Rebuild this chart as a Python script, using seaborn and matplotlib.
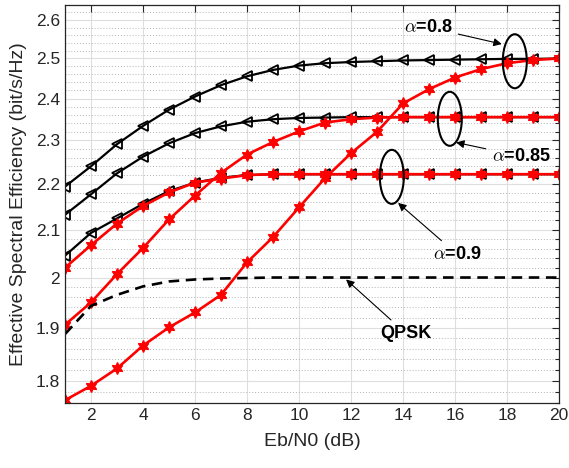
import numpy as np
import pandas as pd
import matplotlib
matplotlib.use("Agg")
import matplotlib.pyplot as plt
import seaborn as sns
from matplotlib.patches import Ellipse
from matplotlib.ticker import FixedLocator, NullFormatter

# ---------------- data ----------------
ebn0 = list(range(1, 21))
ideal_a08 = [2.194, 2.240, 2.291, 2.334, 2.373, 2.405, 2.433, 2.455, 2.471, 2.482,
             2.488, 2.491, 2.493, 2.495, 2.496, 2.497, 2.498, 2.499, 2.499, 2.500]
ideal_a085 = [2.132, 2.177, 2.224, 2.262, 2.293, 2.317, 2.333, 2.344, 2.350, 2.353,
              2.354, 2.355, 2.355, 2.355, 2.355, 2.355, 2.355, 2.355, 2.355, 2.355]
ideal_a09 = [2.045, 2.093, 2.124, 2.156, 2.184, 2.203, 2.214, 2.220, 2.222, 2.222,
             2.222, 2.222, 2.222, 2.222, 2.222, 2.222, 2.222, 2.222, 2.222, 2.222]
prop_a08 = [1.765, 1.791, 1.823, 1.866, 1.901, 1.930, 1.965, 2.031, 2.084, 2.148,
            2.213, 2.270, 2.320, 2.388, 2.423, 2.452, 2.473, 2.488, 2.496, 2.500]
prop_a085 = [1.906, 1.950, 2.007, 2.061, 2.122, 2.174, 2.225, 2.267, 2.296, 2.321,
             2.342, 2.350, 2.354, 2.355, 2.355, 2.355, 2.355, 2.355, 2.355, 2.355]
prop_a09 = [2.020, 2.067, 2.113, 2.151, 2.181, 2.203, 2.212, 2.220, 2.222, 2.222,
            2.222, 2.222, 2.222, 2.222, 2.222, 2.222, 2.222, 2.222, 2.222, 2.222]
qpsk = [1.888, 1.943, 1.965, 1.982, 1.992, 1.996, 1.998, 1.999, 2.000, 2.000,
        2.000, 2.000, 2.000, 2.000, 2.000, 2.000, 2.000, 2.000, 2.000, 2.000]

xticks = [2, 4, 6, 8, 10, 12, 14, 16, 18, 20]
yticks = [1.8, 1.9, 2.0, 2.1, 2.2, 2.3, 2.4, 2.5, 2.6]
ytick_labels = ["1.8", "1.9", "2", "2.1", "2.2", "2.3", "2.4", "2.5", "2.6"]

# annotation labels: (text, text position, arrow tip, ellipse centre)
labels = [r"$\alpha$=0.8", r"$\alpha$=0.85", r"$\alpha$=0.9", "QPSK"]
label_xy = [(14.96, 2.581), (18.54, 2.263), (16.08, 2.048), (14.12, 1.889)]
arrow_tip = [(17.8, 2.537), (16.04, 2.295), (13.81, 2.158), (11.81, 1.996)]
ellipse_xy = [(18.3, 2.493), (15.8, 2.351), (13.57, 2.216)]

# ---------------- style ----------------
sns.set_style("white")
plt.rcParams["font.family"] = ["Liberation Sans", "DejaVu Sans"]
plt.rcParams["mathtext.fontset"] = "cm"

fig = plt.figure(figsize=(5.69, 4.68), dpi=100)
ax = fig.add_axes([65 / 569, 1 - 403 / 468, 494 / 569, 398 / 468])

axc = (0.15, 0.15, 0.15)

black_kw = dict(color="black", lw=1.6, marker="<", markersize=6.5,
                markerfacecolor="none", markeredgecolor="black", markeredgewidth=1.3)
red_kw = dict(color="red", lw=1.9, marker=(6, 1, 0), markersize=8.5,
              markerfacecolor="red", markeredgecolor="red", markeredgewidth=1.0)

for series in [ideal_a08, ideal_a085, ideal_a09]:
    sns.lineplot(x=ebn0, y=series, ax=ax, **black_kw)
for series in [prop_a08, prop_a085, prop_a09]:
    sns.lineplot(x=ebn0, y=series, ax=ax, **red_kw)
sns.lineplot(x=ebn0, y=qpsk, ax=ax, color="black", lw=1.9, linestyle=(0, (4, 2.5)))

ax.set_yscale("log")
ax.set_xlim(1, 20)
ax.set_ylim(1.76, 2.64)
ax.set_xticks(xticks)
ax.set_xticklabels([str(t) for t in xticks])
ax.yaxis.set_major_locator(FixedLocator(yticks))
ax.set_yticklabels(ytick_labels)
minor_y = [round(1.76 + 0.02 * i, 2) for i in range(45)]
ax.yaxis.set_minor_locator(FixedLocator(minor_y))
ax.yaxis.set_minor_formatter(NullFormatter())
ax.xaxis.set_minor_locator(FixedLocator([]))

ax.grid(True, which="major", color=(0.87, 0.87, 0.87), lw=0.8)
ax.grid(True, which="minor", axis="y", color=(0.7, 0.7, 0.7), lw=0.7, linestyle=(0, (1, 2)))
ax.set_axisbelow(True)

ax.tick_params(which="both", direction="in", top=True, right=True, colors=axc,
               labelsize=12.5)
ax.tick_params(which="major", length=5, width=0.8)
ax.tick_params(which="minor", length=3, width=0.8)
for s in ax.spines.values():
    s.set_color(axc)
    s.set_linewidth(0.9)

ax.set_xlabel("Eb/N0 (dB)", fontsize=14, color=axc, labelpad=7)
ax.set_ylabel("Effective Spectral Efficiency (bit/s/Hz)", fontsize=14, color=axc, labelpad=6)

# ellipses (drawn in axes coordinates so they stay elliptical on log scale)
to_axes = ax.transScale + ax.transLimits
for cxy in ellipse_xy:
    c = to_axes.transform(cxy)
    ax.add_patch(Ellipse(c, width=24 / 494, height=54 / 398, transform=ax.transAxes,
                         fill=False, edgecolor="black", lw=1.5, zorder=10))

for lab, txy, tip in zip(labels, label_xy, arrow_tip):
    ax.annotate(lab, xy=tip, xytext=txy, ha="center", va="center",
                fontsize=13, fontweight="bold", color="black",
                arrowprops=dict(arrowstyle="-|>", color="black", lw=0.8,
                                mutation_scale=12, shrinkA=2, shrinkB=0),
                zorder=11)

fig.savefig("out.png", dpi=100)
